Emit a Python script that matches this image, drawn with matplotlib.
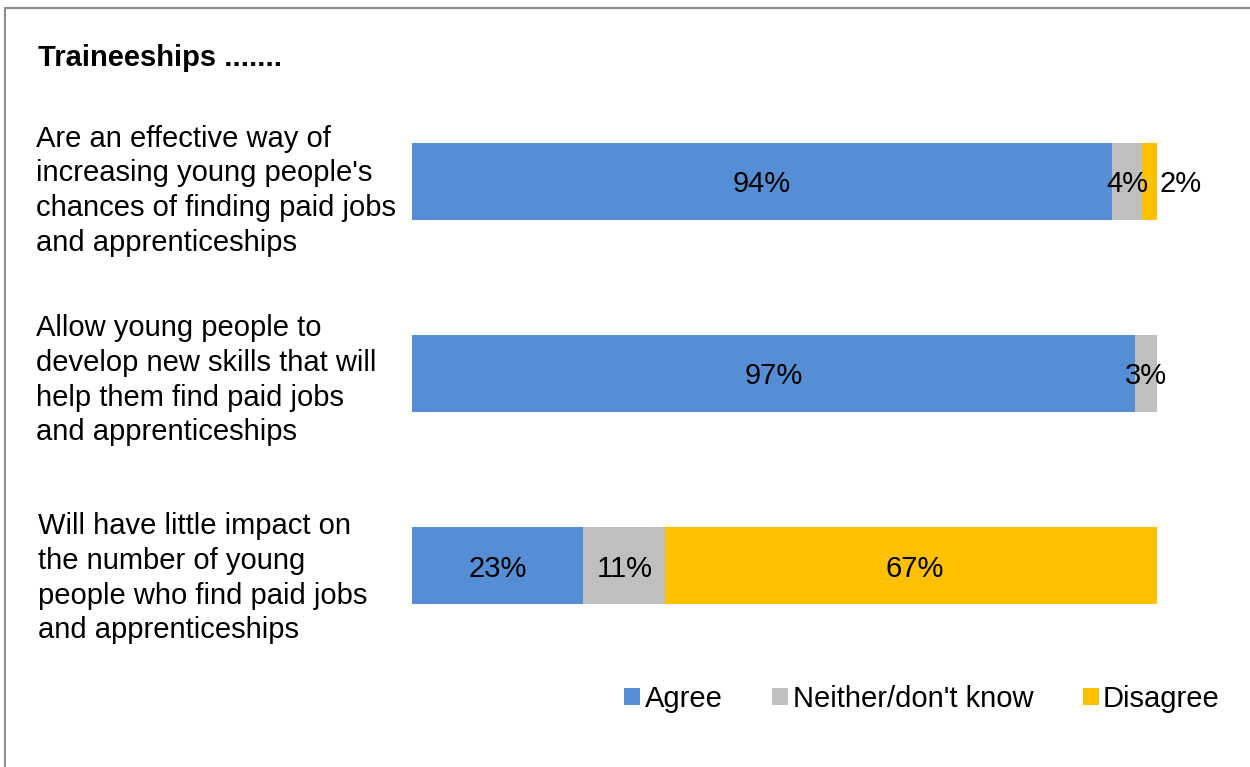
import matplotlib

matplotlib.use("Agg")

import matplotlib.pyplot as plt
from matplotlib.patches import Rectangle
from matplotlib.transforms import blended_transform_factory

plt.rcParams["font.family"] = ["Liberation Sans", "DejaVu Sans"]

statements = [
    "Are an effective way of\nincreasing young people's\nchances of finding paid jobs\nand apprenticeships",
    "Allow young people to\ndevelop new skills that will\nhelp them find paid jobs\nand apprenticeships",
    "Will have little impact on\nthe number of young\npeople who find paid jobs\nand apprenticeships",
]
series_names = ["Agree", "Neither/don't know", "Disagree"]
agree = [94, 97, 23]
neither = [4, 3, 11]
disagree = [2, 0, 67]
colors = ["#558ED5", "#BFBFBF", "#FFC000"]

W, H = 1250, 767
FS = 21
fig = plt.figure(figsize=(W / 100, H / 100), dpi=100)
ax = fig.add_axes([412 / W, 1 - 662 / H, 745 / W, 577 / H])

ypos = list(range(len(statements)))
left = [0] * len(statements)
for name, vals, col in zip(series_names, [agree, neither, disagree], colors):
    ax.barh(ypos, vals, left=left, height=0.4, color=col, label=name)
    for y, v, l in zip(ypos, vals, left):
        if v == 0:
            continue
        if v < 3:
            # small segment: label sits just past the bar end
            ax.text(l + v + 0.4, y + 0.015, f"{v}%", ha="left", va="center", fontsize=FS)
        else:
            ax.text(l + v / 2, y + 0.015, f"{v}%", ha="center", va="center", fontsize=FS)
    left = [a + b for a, b in zip(left, vals)]

ax.set_xlim(0, 100)
ax.set_ylim(2.5, -0.5)
ax.axis("off")

trans = blended_transform_factory(fig.transFigure, ax.transData)
label_nudge = [0.05, 0.035, 0.065]
for y, s, dy in zip(ypos, statements, label_nudge):
    xl = 36 / W if y < 2 else 38 / W
    ax.text(xl, y + dy, s, transform=trans, ha="left", va="center",
            fontsize=FS, linespacing=1.3)

fig.text(38 / W, 1 - 58 / H, "Traineeships .......", fontsize=FS,
         fontweight="bold", ha="left", va="center")

# outer chart frame (right and bottom edges fall outside the crop)
fig.patches.append(Rectangle((5 / W, -0.05), 1.1, 1 - 8 / H + 0.05,
                             transform=fig.transFigure, fill=False,
                             edgecolor="#8c8c8c", linewidth=1.5))

ax.legend(loc="center right", bbox_to_anchor=(1246 / W, 1 - 699 / H),
          bbox_transform=fig.transFigure, ncol=3, frameon=False,
          fontsize=FS, handlelength=0.55, handleheight=0.55,
          handletextpad=0.15, columnspacing=1.7)

fig.savefig("out.png", dpi=100)
